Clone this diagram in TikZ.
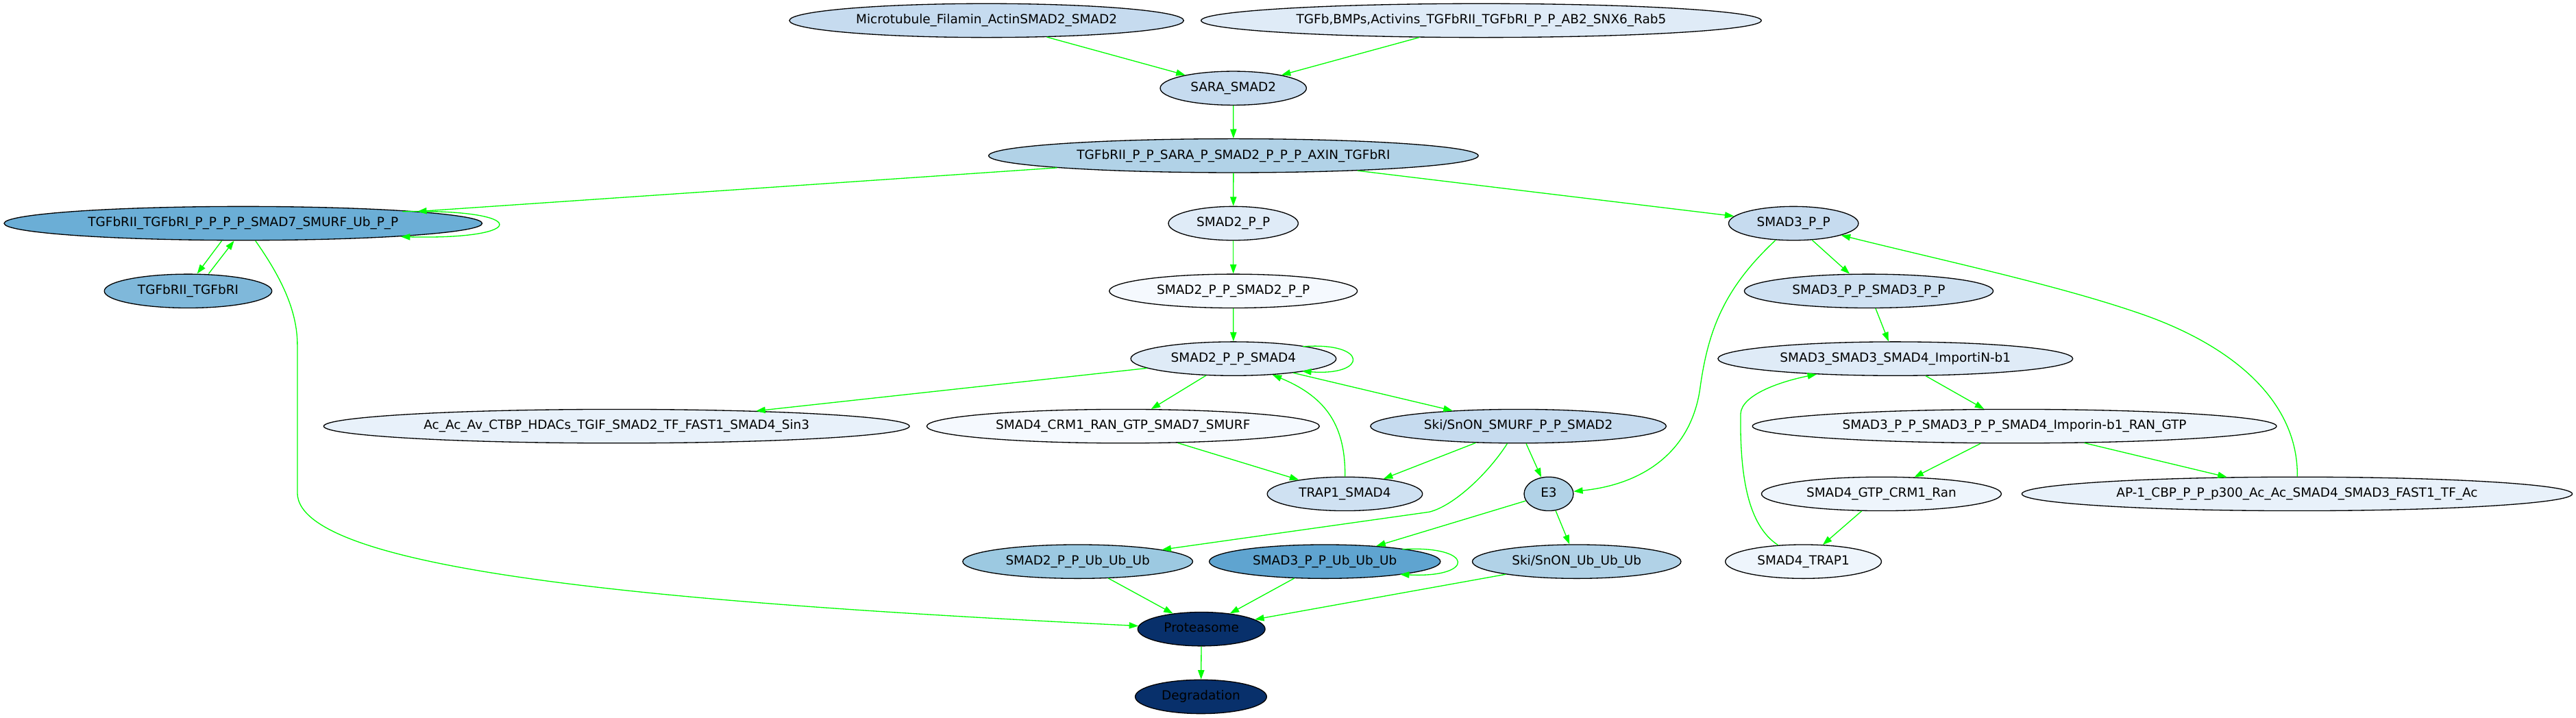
\documentclass[tikz,border=0pt]{standalone}
\usepackage{fontspec}
\setmainfont{DejaVu Sans}
\usetikzlibrary{arrows.meta,shapes.geometric,calc}
\definecolor{linkgreen}{HTML}{00FF00}
\definecolor{shadeA}{HTML}{F5F9FE}
\definecolor{shadeB}{HTML}{EEF5FC}
\definecolor{shadeC}{HTML}{E8F1FA}
\definecolor{shadeD}{HTML}{DFEBF7}
\definecolor{shadeE}{HTML}{CFE1F2}
\definecolor{shadeF}{HTML}{C6DBEF}
\definecolor{shadeG}{HTML}{B1D2E7}
\definecolor{shadeH}{HTML}{9CC9E1}
\definecolor{shadeI}{HTML}{7FB8DA}
\definecolor{shadeJ}{HTML}{6BAED6}
\definecolor{shadeK}{HTML}{5FA4D0}
\definecolor{navy}{HTML}{08306B}
\newcommand{\Species}[6]{%
  \node[species, minimum width=#4pt, fill=#5] (#1) at (#2,#3) {#6};
}

\begin{document}
\begin{tikzpicture}[x=1pt,y=-1pt,
    species/.style={ellipse, draw=black, line width=.55pt, inner sep=0pt, minimum height=20.6pt,
      text height=5.8pt, text depth=1.8pt, font=\fontsize{7.7}{9}\selectfont},
    flow/.style={draw=linkgreen, line width=.55pt, -{Triangle[length=5.6pt,width=3.9pt]}}]
    \useasboundingbox (0,0) rectangle (1568,437);
    \Species{mtb}{600.5}{12.5}{240}{shadeF}{Microtubule\_Filamin\_ActinSMAD2\_SMAD2}
    \Species{tgfb}{901.6}{12.5}{341}{shadeD}{TGFb,BMPs,Activins\_TGFbRII\_TGFbRI\_P\_P\_AB2\_SNX6\_Rab5}
    \Species{sara}{750.7}{53.7}{89}{shadeF}{SARA\_SMAD2}
    \Species{rsara}{750.8}{94.8}{298}{shadeG}{TGFbRII\_P\_P\_SARA\_P\_SMAD2\_P\_P\_P\_AXIN\_TGFbRI}
    \Species{rsmurf}{148}{136}{291}{shadeJ}{TGFbRII\_TGFbRI\_P\_P\_P\_P\_SMAD7\_SMURF\_Ub\_P\_P}
    \Species{s2p}{750.7}{136}{79}{shadeD}{SMAD2\_P\_P}
    \Species{s3p}{1091.7}{136}{79}{shadeF}{SMAD3\_P\_P}
    \Species{rr}{114.5}{177.2}{102}{shadeI}{TGFbRII\_TGFbRI}
    \Species{s2p2}{750.7}{177.2}{151}{shadeA}{SMAD2\_P\_P\_SMAD2\_P\_P}
    \Species{s3p3}{1137.5}{177.2}{151.5}{shadeE}{SMAD3\_P\_P\_SMAD3\_P\_P}
    \Species{s2p4}{750.8}{218.4}{125}{shadeD}{SMAD2\_P\_P\_SMAD4}
    \Species{s3imp}{1153.7}{218.4}{216}{shadeD}{SMAD3\_SMAD3\_SMAD4\_ImportiN-b1}
    \Species{acac}{375.3}{259.5}{356.5}{shadeC}{Ac\_Ac\_Av\_CTBP\_HDACs\_TGIF\_SMAD2\_TF\_FAST1\_SMAD4\_Sin3}
    \Species{s4crm}{683.6}{259.5}{239}{shadeA}{SMAD4\_CRM1\_RAN\_GTP\_SMAD7\_SMURF}
    \Species{skismurf}{924.2}{259.5}{180}{shadeF}{Ski/SnON\_SMURF\_P\_P\_SMAD2}
    \Species{s3ran}{1226.2}{259.5}{319}{shadeB}{SMAD3\_P\_P\_SMAD3\_P\_P\_SMAD4\_Imporin-b1\_RAN\_GTP}
    \Species{trap}{818.6}{300.7}{94.5}{shadeE}{TRAP1\_SMAD4}
    \Species{e3}{942.7}{300.7}{30}{shadeG}{E3}
    \Species{s4gtp}{1145.2}{300.7}{146}{shadeB}{SMAD4\_GTP\_CRM1\_Ran}
    \Species{ap1}{1398.2}{300.7}{335}{shadeC}{AP-1\_CBP\_P\_P\_p300\_Ac\_Ac\_SMAD4\_SMAD3\_FAST1\_TF\_Ac}
    \Species{s2ub}{656}{341.9}{140}{shadeH}{SMAD2\_P\_P\_Ub\_Ub\_Ub}
    \Species{s3ub}{806.4}{341.9}{140.7}{shadeK}{SMAD3\_P\_P\_Ub\_Ub\_Ub}
    \Species{skiub}{959.7}{341.9}{127}{shadeG}{Ski/SnON\_Ub\_Ub\_Ub}
    \Species{s4trap}{1097.7}{341.9}{95}{shadeB}{SMAD4\_TRAP1}
    \Species{prot}{731.3}{383}{77.5}{navy}{Proteasome}
    \Species{degr}{731}{424.2}{80}{navy}{Degradation}
    \foreach \src/\dst in {mtb/sara, tgfb/sara, sara/rsara, rsara/rsmurf, rsara/s2p, rsara/s3p,
        s2p/s2p2, s2p2/s2p4, s2p4/acac, s2p4/s4crm, s2p4/skismurf, s4crm/trap, skismurf/trap,
        skismurf/e3, e3/s3ub, e3/skiub, s3p/s3p3, s3p3/s3imp, s3imp/s3ran, s3ran/s4gtp, s3ran/ap1,
        s4gtp/s4trap, s2ub/prot, s3ub/prot, skiub/prot, prot/degr}
      \draw[flow] (\src) -- (\dst);
    \draw[flow] ($(rsmurf)+(97,-7.2)$) .. controls +(78,-1.8) and +(79,1.9) .. ($(rsmurf)+(96,8.1)$);
    \draw[flow] ($(s2p4)+(42.2,-7.4)$) .. controls +(40,-3) and +(40.4,3) .. ($(s2p4)+(41.8,7.6)$);
    \draw[flow] ($(s3ub)+(47.2,-7.5)$) .. controls +(44.4,-2.4) and +(45.8,2.3) .. ($(s3ub)+(45.8,7.8)$);
    \draw[flow] ($(rsmurf.south)+(-13,0)$) -- ($(rr.north)+(5.5,0)$);
    \draw[flow] ($(rr.north)+(12.5,0)$) -- ($(rsmurf.south)+(-5.5,0)$);
    \draw[flow] (rsmurf) .. controls (172,170) and (181,190) .. (181,210) -- (181,300)
      .. controls (181,350) and (430,368) .. (prot);
    \draw[flow] (s3p) .. controls (1050,175) and (1040,200) .. (1035,235)
      .. controls (1030,275) and (1000,295) .. (e3);
    \draw[flow] (trap) .. controls (819,260) and (808,242) .. (s2p4);
    \draw[flow] (skismurf) .. controls (906,288) and (885,308) .. (870,311.7) -- (s2ub);
    \draw[flow] (ap1) .. controls (1399,245) and (1360,210) .. (1300,190)
      .. controls (1250,173) and (1180,158) .. (s3p);
    \draw[flow] (s4trap) .. controls (1064,320) and (1059,290) .. (1059.5,252)
      .. controls (1060,240) and (1085,232) .. (s3imp);
\end{tikzpicture}
\end{document}
